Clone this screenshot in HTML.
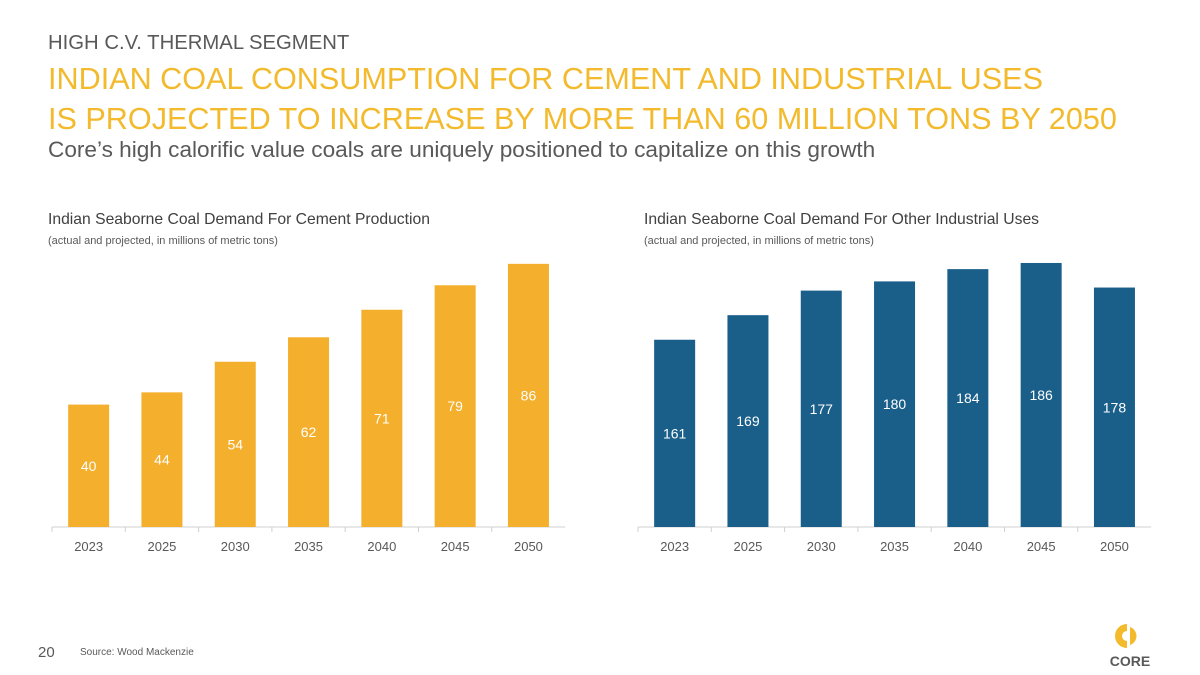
<!DOCTYPE html>
<html><head><meta charset="utf-8"><style>
body{margin:0;width:1200px;height:675px;background:#fff;font-family:"Liberation Sans",sans-serif;position:relative;overflow:hidden}
.t{position:absolute;white-space:nowrap}
</style></head><body>
<div class="t" style="left:48px;top:32px;font-size:20.3px;color:#595959">HIGH C.V. THERMAL SEGMENT</div>
<div class="t" style="left:48px;top:59px;font-size:30.6px;line-height:40px;color:#F2BA2C">INDIAN COAL CONSUMPTION FOR CEMENT AND INDUSTRIAL USES<br>IS PROJECTED TO INCREASE BY MORE THAN 60 MILLION TONS BY 2050</div>
<div class="t" style="left:48px;top:137px;font-size:22.6px;color:#595959">Core’s high calorific value coals are uniquely positioned to capitalize on this growth</div>
<div class="t" style="left:48px;top:211px;font-size:15.7px;color:#404040">Indian Seaborne Coal Demand For Cement Production</div>
<div class="t" style="left:48px;top:235px;font-size:11px;color:#595959">(actual and projected, in millions of metric tons)</div>
<div class="t" style="left:644px;top:211px;font-size:15.7px;color:#404040">Indian Seaborne Coal Demand For Other Industrial Uses</div>
<div class="t" style="left:644px;top:235px;font-size:11px;color:#595959">(actual and projected, in millions of metric tons)</div>
<div class="t" style="left:38px;top:644px;font-size:15px;color:#595959">20</div>
<div class="t" style="left:80px;top:647px;font-size:10px;color:#595959">Source: Wood Mackenzie</div>
<svg width="1200" height="675" style="position:absolute;left:0;top:0" id="svg">
<g>
<path d="M1127 624 A12 12 0 1 0 1127 648 L1127 641 A5 5 0 0 1 1127 631 Z" fill="#F2BA2C"/>
<path d="M1130 627 A9.5 9.5 0 0 1 1130 645 Z" fill="#F2BA2C"/>
<text x="1130" y="666" text-anchor="middle" font-size="14" font-weight="bold" fill="#595959" font-family="Liberation Sans">CORE</text>
</g>
</svg>
<script>
const categories=["2023","2025","2030","2035","2040","2045","2050"];
const cementValues=[40,44,54,62,71,79,86];
const industrialValues=[161,169,177,180,184,186,178];
const svg=document.getElementById('svg');
const NS='http://www.w3.org/2000/svg';
function chart(x0,vals,min,scale,color,name){
  const base=527,step=73.3;
  const g=document.createElementNS(NS,'g');
  
  
  svg.appendChild(g);
  const ax=document.createElementNS(NS,'line');
  ax.setAttribute('x1',x0);ax.setAttribute('x2',x0+step*categories.length);
  ax.setAttribute('y1',base);ax.setAttribute('y2',base);ax.setAttribute('stroke','#d0d0d0');
  
  
  g.appendChild(ax);
  vals.forEach((v,i)=>{
    const cx=x0+step*(i+0.5);
    const h=(v-min)*scale;
    const r=document.createElementNS(NS,'rect');
    r.setAttribute('x',cx-20.5);r.setAttribute('width',41);
    r.setAttribute('y',base-h);r.setAttribute('height',h);r.setAttribute('fill',color);
    
    
    g.appendChild(r);
    const t=document.createElementNS(NS,'text');
    t.setAttribute('x',cx);t.setAttribute('y',base-h/2+5);t.setAttribute('text-anchor','middle');
    t.setAttribute('fill','#fff');t.setAttribute('font-size','14');t.setAttribute('font-family','Liberation Sans');
    t.textContent=v;
    
    
    g.appendChild(t);
    const l=document.createElementNS(NS,'text');
    l.setAttribute('x',cx);l.setAttribute('y',551);l.setAttribute('text-anchor','middle');
    l.setAttribute('fill','#595959');l.setAttribute('font-size','13');l.setAttribute('font-family','Liberation Sans');
    l.textContent=categories[i];
    
    
    g.appendChild(l);
    const tk=document.createElementNS(NS,'line');
    tk.setAttribute('x1',x0+step*i);tk.setAttribute('x2',x0+step*i);tk.setAttribute('y1',base);tk.setAttribute('y2',base+5);tk.setAttribute('stroke','#d0d0d0');
    
    
    g.appendChild(tk);
  });
}
chart(52,cementValues,0,3.06,'#F4AF2D','cement-chart');
chart(638,industrialValues,100,3.07,'#1A5F8A','industrial-chart');
</script>
</body></html>
